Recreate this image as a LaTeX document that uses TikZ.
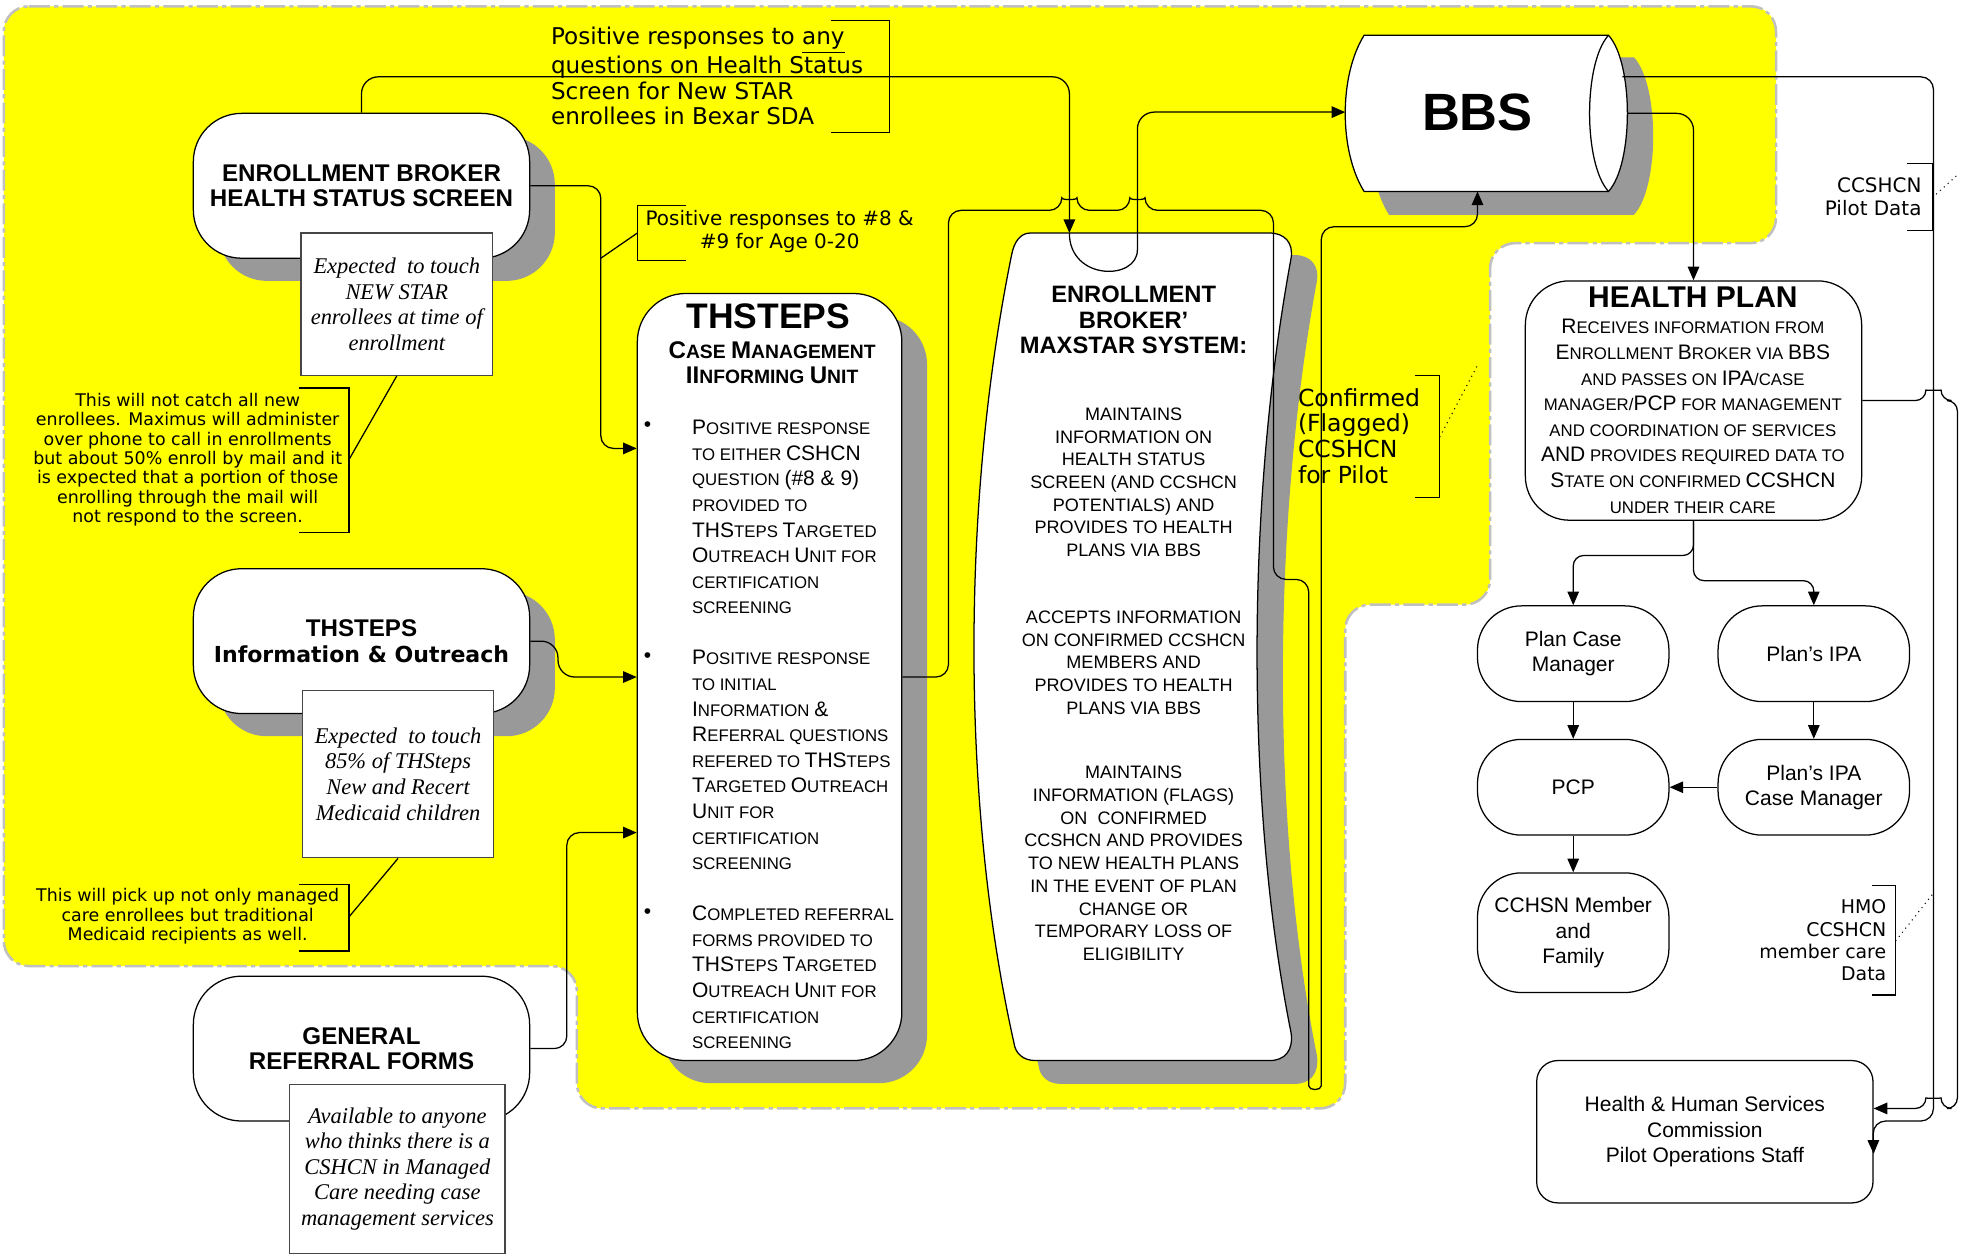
\documentclass[tikz,border=0pt]{standalone}
\usepackage{fontspec}
\setmainfont{Liberation Sans}
\newfontfamily\tnr{Liberation Serif}
\newfontfamily\dvs{DejaVu Sans}
\usetikzlibrary{positioning,shadows,arrows.meta}
\definecolor{zoneyellow}{RGB}{255,255,0}
\definecolor{zoneborder}{RGB}{192,192,192}
\definecolor{shgray}{RGB}{153,153,153}
\definecolor{notegray}{RGB}{70,70,70}
\newcommand\Bg[2][10]{{\fontsize{#1}{#1}\selectfont #2}}

\begin{document}
\begin{tikzpicture}[
        x=0.6pt, y=-0.6pt, line width=0.6pt,
        zone/.style={fill=zoneyellow, draw=zoneborder, line width=1.2pt, dash pattern=on 10pt off 2pt on 2pt off 2pt, rounded corners=12pt},
        bigbox/.style={rectangle, draw=black, fill=white, rounded corners=23pt, align=center, minimum width=160.2pt, minimum height=69pt, font=\bfseries\fontsize{11.5}{12}\selectfont},
        shadowed/.style={drop shadow={shadow xshift=12pt, shadow yshift=-10.8pt, fill=shgray, opacity=1}},
        notebox/.style={rectangle, draw=notegray, fill=white, align=center, inner sep=0pt, font=\tnr\itshape\fontsize{10.7}{12.2}\selectfont},
        remark/.style={align=center, inner sep=0pt, font=\dvs\fontsize{8.3}{9.2}\selectfont},
        capsline/.style={align=left, inner sep=0pt, font=\fontsize{8}{12.2}\selectfont},
        maxline/.style={align=center, inner sep=0pt, font=\fontsize{8.6}{10.8}\selectfont},
        pill/.style={rectangle, draw=black, fill=white, rounded corners=21pt, align=center, minimum width=91.2pt, minimum height=45.6pt, font=\fontsize{10}{12}\selectfont},
        arr/.style={-{Triangle[length=6.5pt,width=5.5pt]}},
        brk/.style={draw=black},
        dotline/.style={dotted, line width=0.5pt},
        node distance=17.4pt and 22.8pt
        ]

        \path[use as bounding box, fill=white] (0,0) rectangle (1568,998);
        \path[zone] (3,5) -- (1410,5) -- (1410,193) -- (1183,193) -- (1183,480) -- (1068,480) -- (1068,880) -- (458,880) -- (458,767) -- (3,767) -- cycle;

        %Left column
        \node[bigbox, shadowed] (ebBox)   at (287,147.5) {ENROLLMENT BROKER\\HEALTH STATUS SCREEN};
        \node[notebox, minimum width=91.2pt, minimum height=67.8pt] (ebNote) at (315,241.5) {Expected\ \ to touch\\NEW STAR\\enrollees at time of\\enrollment};
        \node[bigbox, shadowed] (infoBox) at (287,509) {THSTEPS\\{\dvs\fontsize{10.5}{12}\selectfont Information \& Outreach}};
        \node[notebox, minimum width=91.2pt, minimum height=79.8pt] (infoNote) at (316,614.5) {Expected\ \ to touch\\85\% of THSteps\\New and Recert\\Medicaid children};
        \node[bigbox]           (genBox)  at (287,832.5) {GENERAL\\REFERRAL FORMS};
        \node[notebox, minimum width=102.6pt, minimum height=80.4pt] (genNote) at (315.5,928) {Available to anyone\\who thinks there is a\\CSHCN in Managed\\Care needing case\\management services};

        %THSteps unit
        \node[bigbox, shadowed, minimum width=126pt, minimum height=365.4pt] (thsteps) at (611,537.5) {};
        \node[inner sep=0pt, font=\bfseries\fontsize{16.9}{18}\selectfont] (thTitle) at (610,251) {THSTEPS};
        \node[capsline, align=center, font=\bfseries\fontsize{9.2}{12}\selectfont] (thSub) at (613,288) {\Bg[11.5]{C}ASE \Bg[11.5]{M}ANAGEMENT\\\Bg[11.5]{II}NFORMING \Bg[11.5]{U}NIT};
        \node[inner sep=0pt] (dot1) at (514,339) {\textbullet};
        \node[inner sep=0pt] (dot2) at (514,522) {\textbullet};
        \node[inner sep=0pt] (dot3) at (514,725) {\textbullet};
        \node[capsline, anchor=west] (bul1) at (549,410.5) {\Bg{P}OSITIVE RESPONSE\\TO EITHER \Bg{CSHCN}\\QUESTION \Bg{(\#8 \& 9)}\\PROVIDED TO\\\Bg{THS}TEPS \Bg{T}ARGETED\\\Bg{O}UTREACH \Bg{U}NIT FOR\\CERTIFICATION\\SCREENING};
        \node[capsline, anchor=west] (bul2) at (549,603.5) {\Bg{P}OSITIVE RESPONSE\\TO INITIAL\\\Bg{I}NFORMATION \Bg{\&}\\\Bg{R}EFERRAL QUESTIONS\\REFERED TO \Bg{THS}TEPS\\\Bg{T}ARGETED \Bg{O}UTREACH\\\Bg{U}NIT FOR\\CERTIFICATION\\SCREENING};
        \node[capsline, anchor=west] (bul3) at (549,776) {\Bg{C}OMPLETED REFERRAL\\FORMS PROVIDED TO\\\Bg{THS}TEPS \Bg{T}ARGETED\\\Bg{O}UTREACH \Bg{U}NIT FOR\\CERTIFICATION\\SCREENING};

        %MAXSTAR system
        \foreach \fc/\dc/\dx/\dy in {shgray/shgray/20/18, white/black/0/0}
            \path[fill=\fc, draw=\dc, shift={(\dx,\dy)}] (818,185) -- (1008,185) .. controls (1020,185) and (1027,193) .. (1025,205) .. controls (989,400) and (989,640) .. (1025,820) .. controls (1027,834) and (1020,842) .. (1008,842) -- (822,842) .. controls (812,842) and (806,836) .. (805,828) .. controls (763,640) and (763,400) .. (803,203) .. controls (805,192) and (810,185) .. (818,185) -- cycle;
        \node[align=center, inner sep=0pt, font=\bfseries\fontsize{11.3}{12}\selectfont] (maxstar) at (900,254) {ENROLLMENT\\BROKER'\\MAXSTAR SYSTEM:};
        \node[maxline] (maxP1) at (900,383) {MAINTAINS\\INFORMATION ON\\HEALTH STATUS\\SCREEN (AND CCSHCN\\POTENTIALS) AND\\PROVIDES TO HEALTH\\PLANS VIA BBS};
        \node[maxline] (maxP2) at (900,526) {ACCEPTS INFORMATION\\ON CONFIRMED CCSHCN\\MEMBERS AND\\PROVIDES TO HEALTH\\PLANS VIA BBS};
        \node[maxline] (maxP3) at (900,685.5) {MAINTAINS\\INFORMATION (FLAGS)\\ON\ \ CONFIRMED\\CCSHCN AND PROVIDES\\TO NEW HEALTH PLANS\\IN THE EVENT OF PLAN\\CHANGE OR\\TEMPORARY LOSS OF\\ELIGIBILITY};

        %BBS
        \foreach \fc/\dc/\dx/\dy in {shgray/shgray/20/18, white/black/0/0}
            \path[fill=\fc, draw=\dc, shift={(\dx,\dy)}] (1083,28) -- (1277,28) .. controls (1297,50) and (1297,130) .. (1277,152) -- (1083,152) .. controls (1063,120) and (1063,60) .. (1083,28) -- cycle;
        \draw (1277,28) .. controls (1257,50) and (1257,130) .. (1277,152);
        \node[inner sep=0pt, font=\bfseries\fontsize{25}{25}\selectfont] (bbs) at (1173,89) {BBS};

        %Health plan side
        \node[rectangle, draw=black, fill=white, rounded corners=21pt, minimum width=160.2pt, minimum height=114pt] (healthPlan) at (1344.5,318) {};
        \node[inner sep=0pt, font=\bfseries\fontsize{14.3}{15}\selectfont] (hpTitle) at (1344,236) {HEALTH PLAN};
        \node[capsline, align=center] (hpText) at (1344,330.5) {\Bg{R}ECEIVES INFORMATION FROM\\\Bg{E}NROLLMENT \Bg{B}ROKER VIA \Bg{BBS}\\AND PASSES ON \Bg{IPA}/CASE\\MANAGER/\Bg{PCP} FOR MANAGEMENT\\AND COORDINATION OF SERVICES\\\Bg{AND} PROVIDES REQUIRED DATA TO\\\Bg{S}TATE ON CONFIRMED \Bg{CCSHCN}\\UNDER THEIR CARE};

        \node[pill] (planCM) at (1249,519) {Plan Case\\Manager};
        \node[pill, right=of planCM] (planIPA) {Plan's IPA};
        \node[pill, below=of planCM] (pcp) {PCP};
        \node[pill, below=of planIPA] (ipaCM) {Plan's IPA\\Case Manager};
        \node[pill, below=of pcp, minimum height=57pt] (member) {CCHSN Member\\and\\Family};
        \node[rectangle, draw=black, fill=white, rounded corners=10pt, align=center, minimum width=160.2pt, minimum height=67.8pt, font=\fontsize{10}{12}\selectfont] (hhsc) at (1353.5,898.5) {Health \& Human Services\\Commission\\Pilot Operations Staff};

        %Remarks
        \node[remark, align=left, anchor=west, font=\dvs\fontsize{11}{12.2}\selectfont] (anyNote) at (437,60.5) {Positive responses to \underline{any}\\questions on Health Status\\Screen for New STAR\\enrollees in Bexar SDA};
        \node[remark, font=\dvs\fontsize{9.5}{10.8}\selectfont] (ageNote) at (619,184) {Positive responses to \#8 \&\\\#9 for Age 0-20};
        \node[remark] (ebCall) at (149,365) {This will not catch all new\\enrollees. Maximus will administer\\over phone to call in enrollments\\but about 50\% enroll by mail and it\\is expected that a portion of those\\enrolling through the mail will\\not respond to the screen.};
        \node[remark] (infoCall) at (149,727.5) {This will pick up not only managed\\care enrollees but traditional\\Medicaid recipients as well.};
        \node[remark, align=left, anchor=west, font=\dvs\fontsize{11.2}{12.2}\selectfont] (confNote) at (1030,346) {Confirmed\\(Flagged)\\CCSHCN\\for Pilot};
        \node[remark, align=right, anchor=east, font=\dvs\fontsize{9.5}{10.8}\selectfont] (pilotNote) at (1526,156) {CCSHCN\\Pilot Data};
        \node[remark, align=right, anchor=east, font=\dvs\fontsize{9}{10.6}\selectfont] (hmoNote) at (1498,746.5) {HMO\\CCSHCN\\member care\\Data};

        \draw[brk] (660,16) -- (706,16) -- (706,105) -- (660,105);
        \draw[brk] (545,163) -- (506,163) -- (506,207) -- (545,207);
        \draw[brk] (237,308) -- (277,308) -- (277,423) -- (237,423);
        \draw[brk] (237,702) -- (277,702) -- (277,755) -- (237,755);
        \draw[brk] (1123,298) -- (1143,298) -- (1143,395) -- (1123,395);
        \draw[brk] (1514,130) -- (1534,130) -- (1534,183) -- (1514,183);
        \draw[brk] (1486,703) -- (1505,703) -- (1505,790) -- (1486,790);

        \coordinate (ageB) at (506,185);
        \coordinate (ageT) at (477,205);
        \coordinate (ebCallB) at (277,365);
        \coordinate (infoCallB) at (277,728);
        \coordinate (confB) at (1143,347);
        \coordinate (confT) at (1173,290);
        \coordinate (pilotB) at (1534,157);
        \coordinate (pilotT) at (1555,138);
        \coordinate (hmoB) at (1505,747);
        \coordinate (hmoT) at (1535,709);
        \draw (ageB) -- (ageT);
        \draw (ebCallB) -- (ebNote.south);
        \draw (infoCallB) -- (infoNote.south);
        \draw[dotline] (confB) -- (confT);
        \draw[dotline] (pilotB) -- (pilotT);
        \draw[dotline] (hmoB) -- (hmoT);

        %Lines
        \coordinate (c1) at (477,356);
        \coordinate (c2) at (450,661);
        \coordinate (mxIn) at (849,185);
        \coordinate (mxOut) at (903,185);
        \coordinate (bbsL) at (1068,89);
        \coordinate (bbsR) at (1292,90);
        \coordinate (bbsB) at (1173,152);
        \coordinate (bbsT) at (1288,61);

        \draw[arr, rounded corners=6pt] (ebBox.east) -| (c1) -- (thsteps.west |- c1);
        \draw[arr, rounded corners=8pt] (infoBox.east) -- (443,509) -- (443,537.5) -- (thsteps.west);
        \draw[arr, rounded corners=6pt] (genBox.east) -| (c2) -- (thsteps.west |- c2);
        \draw[arr, rounded corners=8pt] (ebBox.north) |- (849,61) -- (mxIn);
        \draw[arr, rounded corners=8pt] (mxIn) .. controls (849,223) and (903,223) .. (mxOut) -- (903,89) -- (bbsL);
        \draw[arr, rounded corners=6pt] (thsteps.east) -- (753,537.5) -- (753,167) -- (843,167) .. controls (843,159) and (855,159) .. (855,167) -- (897,167) .. controls (897,159) and (909,159) .. (909,167) -- (1011,167) -- (1011,460) -- (1039,460) -- (1039,852) .. controls (1039,866) and (1049,866) .. (1049,852) -- (1049,180) -- (1173,180) -- (bbsB);
        \draw[arr, rounded corners=8pt] (bbsR) -| (healthPlan.north);
        \draw[arr, rounded corners=6pt] (bbsT) -- (1535,61) -- (1535,890) -- (1487,890) -- ([yshift=-10.5pt]hhsc.east);
        \draw[arr, rounded corners=5pt] (healthPlan.east) -- (1529,318) .. controls (1529,310) and (1541,310) .. (1541,318) -- (1554,318) -- (1554,880) -- (1541,880) .. controls (1541,872) and (1529,872) .. (1529,880) -- ([yshift=11.1pt]hhsc.east);
        \draw[arr, rounded corners=5pt] (healthPlan.south) -- (1344.5,441) -| (planCM.north);
        \draw[arr, rounded corners=5pt] (healthPlan.south) -- (1344.5,461) -| (planIPA.north);
        \draw[arr] (planCM) -- (pcp);
        \draw[arr] (planIPA) -- (ipaCM);
        \draw[arr] (ipaCM) -- (pcp);
        \draw[arr] (pcp) -- (member);

\end{tikzpicture}
\end{document}
